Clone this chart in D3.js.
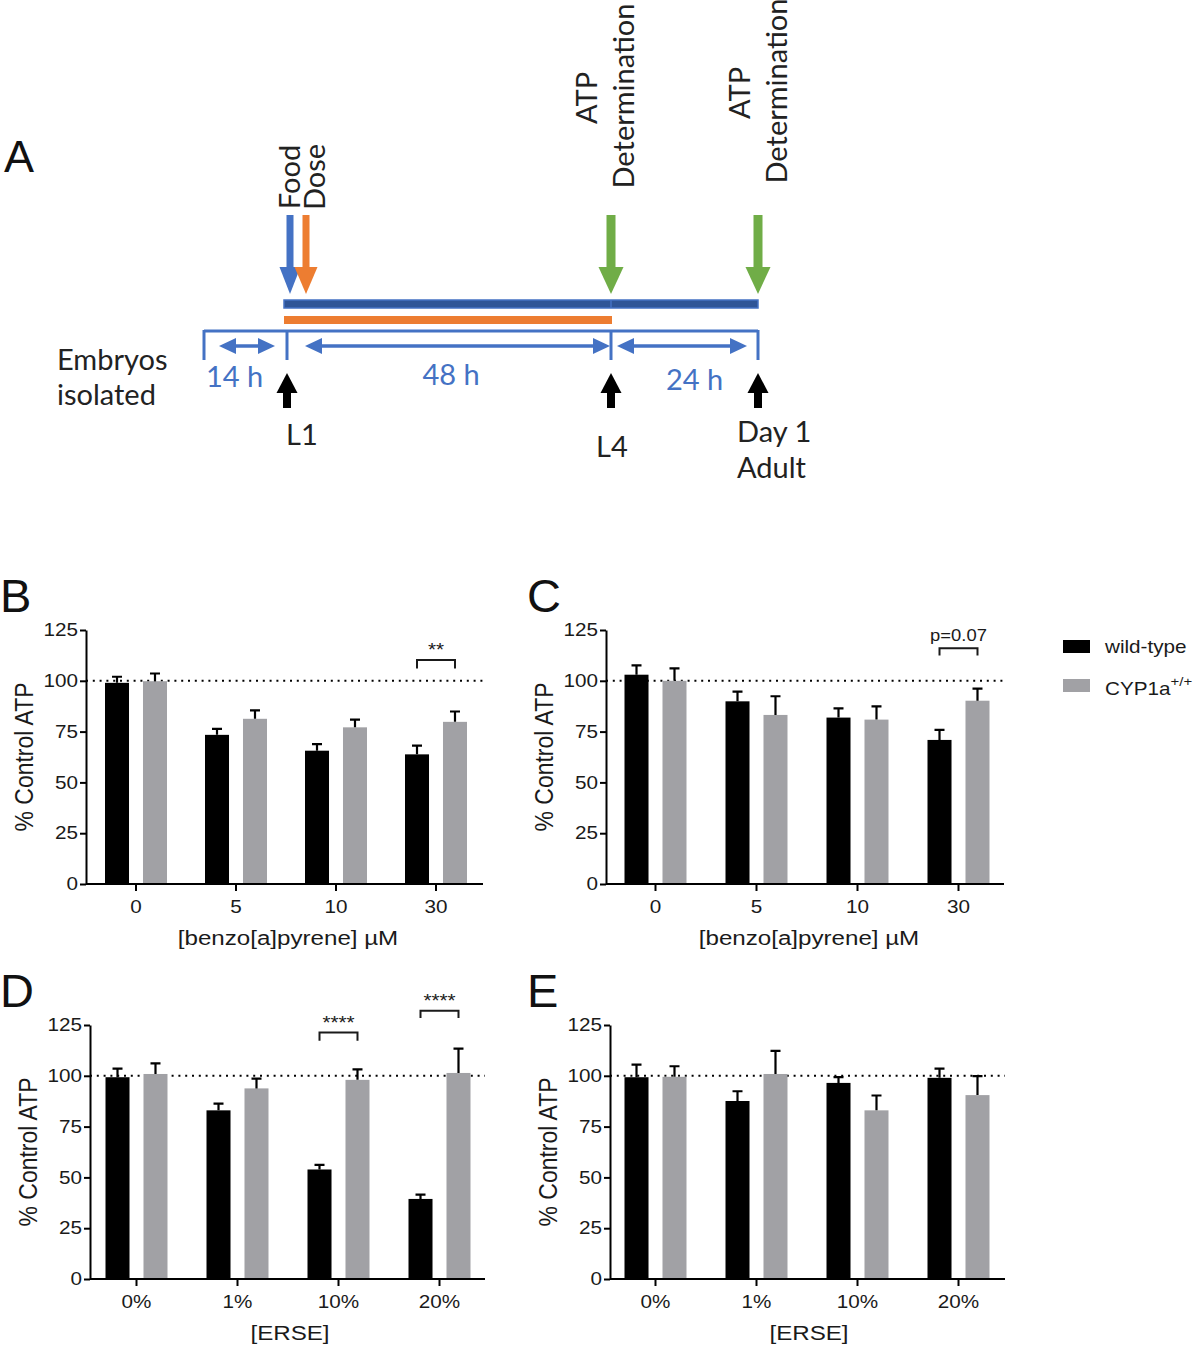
<!DOCTYPE html>
<html>
<head>
<meta charset="utf-8">
<script src="https://cdn.jsdelivr.net/npm/d3@7"></script>
<style>
  html, body { margin: 0; padding: 0; background: #fff; }
  svg { display: block; }
</style>
</head>
<body>
<script>
// ---------------- DATA ----------------
// Panel A timeline (hours relative to L1)
const stageNames = ["Embryos isolated", "L1", "L4", "Day 1 Adult"];
const stageHours = [-14, 0, 48, 72];
const intervalLabels = ["14 h", "48 h", "24 h"];
const foodPeriod = [0, 72];
const dosePeriod = [0, 48];
const atpTimes = [48, 72];

// Panels B/C: benzo[a]pyrene
const bapCategories = ["0", "5", "10", "30"];
const bWildType    = [99.0, 73.4, 65.6, 63.8];
const bWildTypeSem = [3.0, 2.9, 3.2, 4.3];
const bCyp1a       = [99.8, 81.3, 77.1, 79.8];
const bCyp1aSem    = [3.8, 4.1, 3.8, 5.1];

const cWildType    = [103.0, 89.9, 81.9, 70.9];
const cWildTypeSem = [4.6, 4.8, 4.5, 4.9];
const cCyp1a       = [100.0, 83.2, 80.9, 90.2];
const cCyp1aSem    = [6.1, 9.2, 6.5, 5.9];

// Panels D/E: ERSE
const erseCategories = ["0%", "1%", "10%", "20%"];
const dWildType    = [99.3, 83.0, 53.9, 39.4];
const dWildTypeSem = [4.2, 3.3, 2.3, 2.1];
const dCyp1a       = [100.9, 93.8, 98.0, 101.4];
const dCyp1aSem    = [5.2, 4.8, 5.2, 12.0];

const eWildType    = [99.3, 87.6, 96.5, 99.0];
const eWildTypeSem = [6.2, 4.8, 2.8, 4.5];
const eCyp1a       = [99.5, 100.9, 83.0, 90.5];
const eCyp1aSem    = [5.2, 11.4, 7.3, 9.3];

const yTickValues = [0, 25, 50, 75, 100, 125];
const seriesKeys = ["wt", "cyp"];
const legendLabels = ["wild-type", "CYP1a"];

// significance brackets: category, label, bracket top value, leg bottom value
const bSig = [{ cat: "30", label: "**", top: 110.2, leg: 106.0 }];
const cSig = [{ cat: "30", label: "p=0.07", top: 116.0, leg: 112.5 }];
const dSig = [{ cat: "10%", label: "****", top: 121.3, leg: 117.2 },
              { cat: "20%", label: "****", top: 132.0, leg: 128.4 }];
const eSig = [];

// ---------------- DRAWING ----------------
const W = 1200, H = 1349;
const svg = d3.select("body").append("svg").attr("width", W).attr("height", H);
svg.append("rect").attr("width", W).attr("height", H).attr("fill", "#fff");

const BLACK = "#000";
const GRAY = "#a1a1a5";
const BLUE = "#4472c4";
const NAVY = "#2f5597";
const ORANGE = "#ed7d31";
const GREEN = "#70ad47";
const SANS = "'Liberation Sans', Arial, Helvetica, sans-serif";
const CAL = "Lato, 'Open Sans', sans-serif";
const STRETCH = 1.15;

// horizontally stretch text around its own x anchor (mimics the wide type of the figure)
function stretch(sel) {
  sel.each(function () {
    const x = +this.getAttribute("x") || 0;
    d3.select(this).attr("transform", `translate(${x},0) scale(${STRETCH},1) translate(${-x},0)`);
  });
}

// ---------- Panel A ----------
const gA = svg.append("g");
gA.append("text").attr("x", 4).attr("y", 172).attr("font-family", SANS)
  .attr("font-size", 45).attr("fill", "#111").text("A");

const tx = d3.scaleLinear().domain(stageHours).range([204, 287, 611, 758]);

// food (blue) bar and dose (orange) bar
gA.append("rect").attr("x", tx(foodPeriod[0]) - 3).attr("y", 300)
  .attr("width", tx(foodPeriod[1]) - tx(foodPeriod[0]) + 3).attr("height", 8)
  .attr("fill", NAVY).attr("stroke", BLUE).attr("stroke-width", 1.5);
gA.append("line").attr("x1", tx(48)).attr("x2", tx(48)).attr("y1", 300).attr("y2", 308)
  .attr("stroke", BLUE).attr("stroke-width", 1.5);
gA.append("rect").attr("x", tx(dosePeriod[0]) - 3).attr("y", 316)
  .attr("width", tx(dosePeriod[1]) - tx(dosePeriod[0]) + 4).attr("height", 8)
  .attr("fill", ORANGE);

// bracket timeline
gA.append("line").attr("x1", tx(stageHours[0])).attr("x2", tx(stageHours[3]))
  .attr("y1", 331).attr("y2", 331).attr("stroke", BLUE).attr("stroke-width", 3);
stageHours.forEach(h => {
  gA.append("line").attr("x1", tx(h)).attr("x2", tx(h)).attr("y1", 330).attr("y2", 360)
    .attr("stroke", BLUE).attr("stroke-width", 3);
});

// double-headed interval arrows
const intervalInsets = [[15, 12], [18, 1], [6, 11]];
const labelOffsets = [-11, 2, 10];
const labelBaselines = [387, 385, 390];
function hArrowHead(g, xTip, y, dir, color, len, half) {
  g.append("path")
    .attr("d", `M${xTip},${y} L${xTip - dir * len},${y - half} L${xTip - dir * len},${y + half} Z`)
    .attr("fill", color);
}
intervalLabels.forEach((lab, i) => {
  const x1 = tx(stageHours[i]) + intervalInsets[i][0];
  const x2 = tx(stageHours[i + 1]) - intervalInsets[i][1];
  gA.append("line").attr("x1", x1 + 10).attr("x2", x2 - 10).attr("y1", 346).attr("y2", 346)
    .attr("stroke", BLUE).attr("stroke-width", 3.5);
  hArrowHead(gA, x1, 346, -1, BLUE, 17, 8);
  hArrowHead(gA, x2, 346, 1, BLUE, 17, 8);
  const mid = (tx(stageHours[i]) + tx(stageHours[i + 1])) / 2 + labelOffsets[i];
  gA.append("text").attr("x", mid).attr("y", labelBaselines[i]).attr("text-anchor", "middle")
    .attr("font-family", CAL).attr("font-size", 29).attr("fill", BLUE).text(lab);
});

// vertical down arrows
function downArrow(g, x, color, shaftW, headW) {
  g.append("rect").attr("x", x - shaftW / 2).attr("y", 215).attr("width", shaftW).attr("height", 54)
    .attr("fill", color);
  g.append("path").attr("d", `M${x - headW / 2},267 L${x + headW / 2},267 L${x},294 Z`).attr("fill", color);
}
downArrow(gA, tx(foodPeriod[0]) + 3, BLUE, 7, 21);
downArrow(gA, tx(dosePeriod[0]) + 19, ORANGE, 7, 23);
atpTimes.forEach(t => downArrow(gA, tx(t), GREEN, 9, 25));

// black up arrows at stages
stageHours.slice(1).forEach(h => {
  const x = tx(h);
  gA.append("path").attr("d", `M${x},373 L${x + 10.5},393 L${x - 10.5},393 Z`).attr("fill", "#000");
  gA.append("rect").attr("x", x - 4).attr("y", 392).attr("width", 8).attr("height", 16).attr("fill", "#000");
});

// stage labels
const txtA = (x, y, s, anchor) => gA.append("text").attr("x", x).attr("y", y)
  .attr("text-anchor", anchor || "start").attr("font-family", CAL).attr("font-size", 29)
  .attr("fill", "#222").text(s);
txtA(57, 370, "Embryos");
txtA(57, 405, "isolated");
txtA(tx(stageHours[1]) - 1, 445, "L1");
txtA(tx(stageHours[2]) - 15, 457, "L4");
txtA(tx(stageHours[3]) - 21, 442, "Day 1");
txtA(tx(stageHours[3]) - 21, 478, "Adult");

// rotated labels
function rotText(x, yc, s) {
  gA.append("text").attr("transform", `translate(${x},${yc}) rotate(-90)`)
    .attr("text-anchor", "middle").attr("font-family", CAL).attr("font-size", 29)
    .attr("fill", "#222").text(s);
}
rotText(tx(foodPeriod[0]) + 13, 177, "Food");
rotText(tx(dosePeriod[0]) + 38, 177, "Dose");
rotText(tx(atpTimes[0]) - 14, 98, "ATP");
rotText(tx(atpTimes[0]) + 23, 96, "Determination");
rotText(tx(atpTimes[1]) - 8, 93, "ATP");
rotText(tx(atpTimes[1]) + 29, 91, "Determination");

// ---------- Bar panels ----------
function drawPanel(o) {
  const g = svg.append("g");
  const y = d3.scaleLinear().domain([0, 125]).range([o.yBottom, o.yBottom - 254]);
  const x = d3.scaleBand().domain(o.categories).range(o.band).padding(0);
  const x1 = d3.scaleBand().domain(seriesKeys).range([-31, 31]).paddingInner(0.368).paddingOuter(0);
  const rows = o.categories.map((c, i) => ({
    cat: c,
    vals: [
      { key: "wt", v: o.wt[i], e: o.wtSem[i] },
      { key: "cyp", v: o.cyp[i], e: o.cypSem[i] }
    ]
  }));
  const color = { wt: BLACK, cyp: GRAY };

  // panel letter
  g.append("text").attr("x", o.letterX).attr("y", o.yBottom - 272).attr("font-family", SANS)
    .attr("font-size", 47).attr("fill", "#111").text(o.letter);

  // dotted 100% line
  g.append("line").attr("x1", o.axisX).attr("x2", o.xEnd).attr("y1", y(100)).attr("y2", y(100))
    .attr("stroke", "#000").attr("stroke-width", 2).attr("stroke-dasharray", "2,4.8");

  // bars
  const grp = g.selectAll("g.cat").data(rows).join("g")
    .attr("transform", d => `translate(${x(d.cat) + x.bandwidth() / 2},0)`);
  grp.selectAll("rect").data(d => d.vals).join("rect")
    .attr("x", d => x1(d.key)).attr("width", x1.bandwidth())
    .attr("y", d => y(d.v)).attr("height", d => y(0) - y(d.v))
    .attr("fill", d => color[d.key]);
  // error bars (upper only)
  grp.selectAll("path.err").data(d => d.vals).join("path").attr("class", "err")
    .attr("d", d => {
      const cx = x1(d.key) + x1.bandwidth() / 2;
      return `M${cx},${y(d.v)} V${y(d.v + d.e)} M${cx - 5},${y(d.v + d.e)} H${cx + 5}`;
    })
    .attr("stroke", "#000").attr("stroke-width", 2.2).attr("fill", "none");

  // axes
  const yAx = g.append("g").attr("transform", `translate(${o.axisX},0)`)
    .call(d3.axisLeft(y).tickValues(yTickValues).tickSize(6).tickSizeOuter(0).tickPadding(2));
  const xAx = g.append("g").attr("transform", `translate(0,${y(0)})`)
    .call(d3.axisBottom(x).tickSize(7).tickSizeOuter(0).tickPadding(9));
  xAx.select(".domain").attr("d", `M${o.axisX},0 H${o.xEnd}`);
  [yAx, xAx].forEach(a => {
    a.selectAll(".domain, .tick line").attr("stroke", "#000").attr("stroke-width", 2);
    a.selectAll("text").attr("font-family", SANS).attr("font-size", 18).attr("fill", "#1a1a1a")
      .call(stretch);
  });

  // axis titles
  g.append("text")
    .attr("transform", `translate(${o.axisX - 53},${(y(0) + y(125)) / 2}) scale(${STRETCH},1) rotate(-90)`)
    .attr("text-anchor", "middle").attr("font-family", SANS).attr("font-size", 23)
    .attr("fill", "#1a1a1a").text("% Control ATP");
  g.append("text").attr("x", (o.band[0] + o.band[1]) / 2 + 2).attr("y", y(0) + 61)
    .attr("text-anchor", "middle").attr("font-family", SANS).attr("font-size", 21)
    .attr("fill", "#1a1a1a").text(o.xTitle).call(stretch);

  // significance
  o.sig.forEach(s => {
    const cx = x(s.cat) + x.bandwidth() / 2;
    const xa = cx + x1("wt") + x1.bandwidth() / 2;
    const xb = cx + x1("cyp") + x1.bandwidth() / 2;
    g.append("path").attr("d", `M${xa},${y(s.leg)} V${y(s.top)} H${xb} V${y(s.leg)}`)
      .attr("stroke", "#1a1a1a").attr("stroke-width", 2).attr("fill", "none");
    const isP = s.label.startsWith("p");
    g.append("text").attr("x", (xa + xb) / 2).attr("y", y(s.top) - (isP ? 7 : 4)).attr("text-anchor", "middle")
      .attr("font-family", SANS).attr("font-size", isP ? 16 : 18)
      .attr("fill", "#1a1a1a").text(s.label).call(stretch);
  });
}

drawPanel({ letter: "B", letterX: 0, categories: bapCategories, wt: bWildType, wtSem: bWildTypeSem,
  cyp: bCyp1a, cypSem: bCyp1aSem, sig: bSig, axisX: 86, band: [86, 486], xEnd: 483, yBottom: 884,
  xTitle: "[benzo[a]pyrene] \u00b5M" });
drawPanel({ letter: "C", letterX: 527, categories: bapCategories, wt: cWildType, wtSem: cWildTypeSem,
  cyp: cCyp1a, cypSem: cCyp1aSem, sig: cSig, axisX: 606, band: [605, 1009], xEnd: 1004, yBottom: 884,
  xTitle: "[benzo[a]pyrene] \u00b5M" });
drawPanel({ letter: "D", letterX: 0, categories: erseCategories, wt: dWildType, wtSem: dWildTypeSem,
  cyp: dCyp1a, cypSem: dCyp1aSem, sig: dSig, axisX: 90, band: [86, 490], xEnd: 485, yBottom: 1279,
  xTitle: "[ERSE]" });
drawPanel({ letter: "E", letterX: 527, categories: erseCategories, wt: eWildType, wtSem: eWildTypeSem,
  cyp: eCyp1a, cypSem: eCyp1aSem, sig: eSig, axisX: 610, band: [605, 1009], xEnd: 1005, yBottom: 1279,
  xTitle: "[ERSE]" });

// legend
const gL = svg.append("g");
legendLabels.forEach((lab, i) => {
  const yy = 640 + i * 39;
  gL.append("rect").attr("x", 1063).attr("y", yy).attr("width", 27).attr("height", 13)
    .attr("fill", i === 0 ? BLACK : GRAY);
  const t = gL.append("text").attr("x", 1105).attr("y", yy + 13 + i * 3).attr("font-family", SANS)
    .attr("font-size", 18).attr("fill", "#1a1a1a").text(lab);
  if (i === 1) t.append("tspan").attr("dy", -9).attr("font-size", 13).text("+/+");
  t.call(stretch);
});
</script>
</body>
</html>
